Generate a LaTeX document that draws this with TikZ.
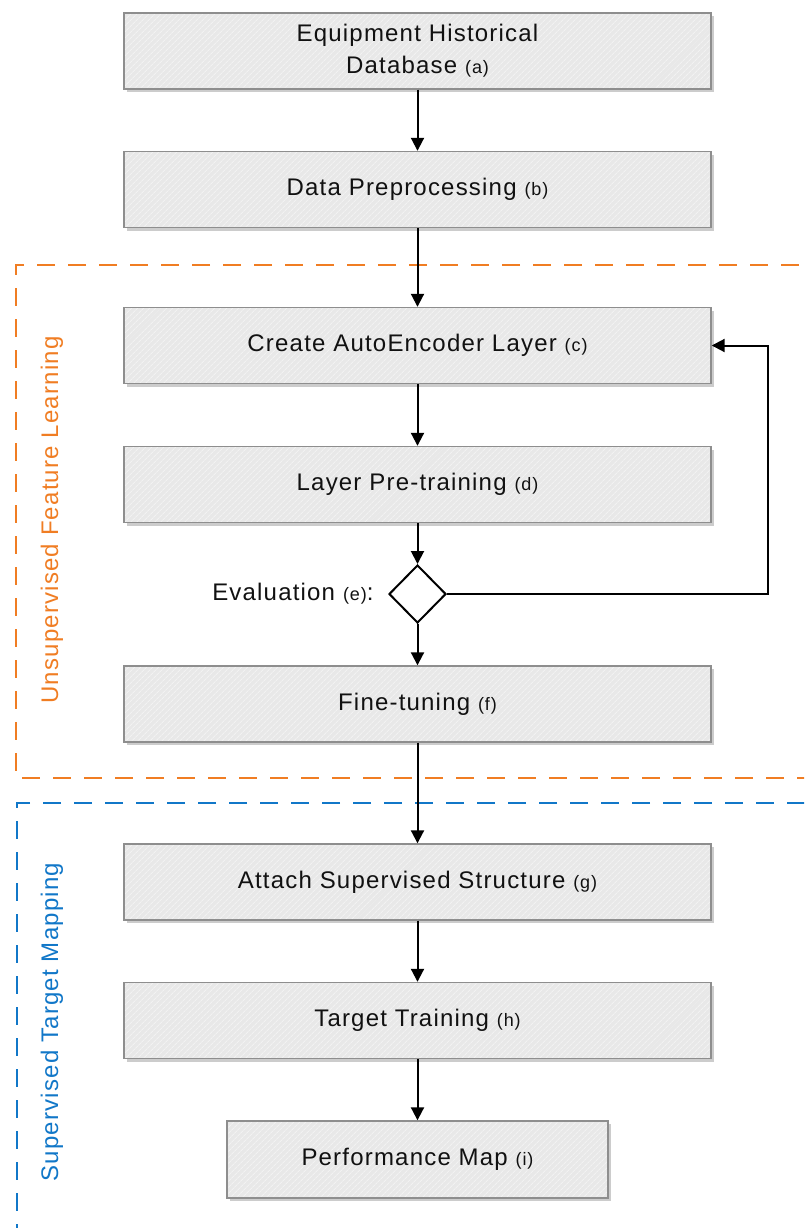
\documentclass[tikz,border=0pt]{standalone}
\usepackage{fontspec}
\setmainfont{Liberation Sans}[LetterSpace=5]
\usetikzlibrary{arrows.meta,shapes.geometric,shadows,patterns.meta}
\definecolor{boxline}{HTML}{8E8E8E}
\definecolor{boxfill}{HTML}{E8E8E8}
\definecolor{stripe}{HTML}{F2F2F2}
\definecolor{shadowc}{HTML}{CCCCCC}
\definecolor{uorange}{HTML}{F07D23}
\definecolor{sblue}{HTML}{1177C8}
\definecolor{txt}{HTML}{111111}
\newcommand{\ltag}[1]{{\fontsize{18}{20}\selectfont(#1)}}
\begin{document}
\begin{tikzpicture}[x=1pt,y=-1pt,
  stepbox/.style={draw=boxline,line width=1.4pt,
    drop shadow={shadow xshift=3pt,shadow yshift=-3pt,fill=shadowc,opacity=1},
    preaction={fill=boxfill},
    preaction={pattern={Lines[angle=45,distance=4pt,line width=1pt]},pattern color=stripe},
    minimum width=587pt,minimum height=76pt,inner sep=0pt,align=center,
    font=\fontsize{24}{32}\selectfont,text=txt},
  arr/.style={line width=2pt,draw=black,-{Triangle[length=13pt,width=13pt]}},
  dec/.style={diamond,draw=black,fill=white,line width=2pt,minimum width=57pt,minimum height=58pt,inner sep=0pt},
  grp/.style={line width=2.7pt,dash pattern=on 18pt off 13pt},
  grplabel/.style={rotate=90,font=\fontsize{24}{26}\selectfont}
]
\useasboundingbox (0,0) rectangle (804,1228);
\begin{scope}
\clip (0,0) rectangle (804,1228);
\draw[grp,uorange] (830,265) -- (16,265) -- (16,778) -- (830,778);
\draw[grp,sblue,dash phase=6pt] (830,803) -- (17,803) -- (17,1250);
\end{scope}

\node[grplabel,text=uorange] (ul) at (52,520) {Unsupervised Feature Learning};
\node[grplabel,text=sblue] (sl) at (52,1022) {Supervised Target Mapping};

\node[stepbox] (a) at (417.5,51) {Equipment Historical\\Database \ltag{a}};
\node[stepbox] (b) at (417.5,189.5) {Data Preprocessing \ltag{b}};
\node[stepbox] (c) at (417.5,345.5) {Create AutoEncoder Layer \ltag{c}};
\node[stepbox] (d) at (417.5,484.5) {Layer Pre-training \ltag{d}};
\node[dec] (e) at (417.5,594) {};
\node[font=\fontsize{24}{26}\selectfont,text=txt,anchor=east] (el) at (377,594) {Evaluation \ltag{e}:};
\node[stepbox] (f) at (417.5,704) {Fine-tuning \ltag{f}};
\node[stepbox] (g) at (417.5,882) {Attach Supervised Structure \ltag{g}};
\node[stepbox] (h) at (417.5,1020.5) {Target Training \ltag{h}};
\node[stepbox,minimum width=381pt,minimum height=77pt] (i) at (417.5,1159.5) {Performance Map \ltag{i}};

\draw[arr] (a) -- (b);
\draw[arr] (b) -- (c);
\draw[arr] (c) -- (d);
\draw[arr] (d) -- (e);
\draw[arr] (e) -- (f);
\draw[arr] (f) -- (g);
\draw[arr] (g) -- (h);
\draw[arr] (h) -- (i);
\coordinate (fb) at (768,594);
\draw[arr] (e.east) -- (fb) |- (c.east);
\end{tikzpicture}
\end{document}
